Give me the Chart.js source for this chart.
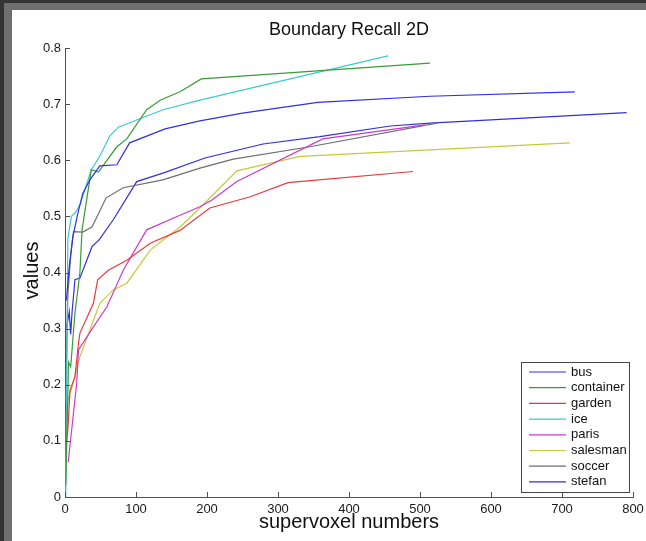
<!DOCTYPE html>
<html>
<head>
<meta charset="utf-8">
<title>Boundary Recall 2D</title>
<script src="https://cdn.jsdelivr.net/npm/chart.js@4.4.1/dist/chart.umd.min.js"></script>
<style>
  html, body { margin: 0; padding: 0; }
  body { width: 646px; height: 541px; background: #353535; position: relative; overflow: hidden; }
  #frame { position: absolute; left: 4px; top: 3px; right: 0; bottom: 0; background: #6f6f6f; }
  #chart { position: absolute; left: 12px; top: 10px; background: #ffffff; }
</style>
</head>
<body>
<div id="frame"></div>
<canvas id="chart" width="634" height="531"></canvas>
<script>
// values
const titleText = 'Boundary Recall 2D';
const xTitle = 'supervoxel numbers';
const yTitle = 'values';

const busX = [2, 6, 11, 18, 25, 35, 49, 73, 91, 141, 190, 250, 356, 514, 718];
const busY = [0.35, 0.41, 0.463, 0.505, 0.541, 0.565, 0.59, 0.592, 0.631, 0.656, 0.670, 0.684, 0.703, 0.714, 0.722];

const containerX = [1, 5, 8, 14, 21, 24, 37, 47, 73, 87, 115, 134, 162, 192, 514];
const containerY = [0.02, 0.24, 0.232, 0.327, 0.40, 0.476, 0.583, 0.579, 0.624, 0.638, 0.690, 0.707, 0.722, 0.745, 0.773];

const gardenX = [2, 4, 7, 14, 19, 21, 40, 46, 61, 87, 120, 162, 204, 261, 314, 490];
const gardenY = [0.10, 0.119, 0.19, 0.214, 0.274, 0.292, 0.345, 0.387, 0.404, 0.422, 0.452, 0.475, 0.515, 0.535, 0.56, 0.58];

const iceX = [1, 4, 9, 14, 21, 37, 48, 63, 75, 138, 190, 455];
const iceY = [0.0, 0.46, 0.50, 0.506, 0.52, 0.583, 0.605, 0.643, 0.659, 0.69, 0.707, 0.786];

const parisX = [4.5, 16.5, 19, 40, 59, 82, 115, 162, 190, 207, 242, 363, 507];
const parisY = [0.062, 0.203, 0.262, 0.303, 0.339, 0.404, 0.476, 0.502, 0.517, 0.529, 0.562, 0.638, 0.663];

const salesmanX = [1, 4, 7, 10, 21, 49, 68, 87, 120, 162, 190, 242, 331, 711];
const salesmanY = [0.03, 0.173, 0.185, 0.196, 0.25, 0.345, 0.369, 0.381, 0.44, 0.481, 0.515, 0.581, 0.607, 0.631];

const soccerX = [1, 4, 8, 12, 25, 38, 58, 82, 138, 190, 237, 345, 524];
const soccerY = [0.17, 0.36, 0.43, 0.473, 0.472, 0.481, 0.533, 0.551, 0.565, 0.586, 0.602, 0.624, 0.666];

const stefanX = [2, 6, 8, 10, 14, 21, 38, 48, 68, 101, 140, 197, 279, 359, 458, 514, 791];
const stefanY = [0.30, 0.33, 0.29, 0.33, 0.387, 0.39, 0.446, 0.458, 0.494, 0.562, 0.578, 0.604, 0.629, 0.642, 0.661, 0.666, 0.685];

const seriesNames = ['bus', 'container', 'garden', 'ice', 'paris', 'salesman', 'soccer', 'stefan'];
const seriesX = [busX, containerX, gardenX, iceX, parisX, salesmanX, soccerX, stefanX];
const seriesY = [busY, containerY, gardenY, iceY, parisY, salesmanY, soccerY, stefanY];
const seriesColors = ['#3030e0', '#3a9a3a', '#e83a3a', '#3ccaca', '#c83cc8', '#c8c83a', '#6e6e6e', '#3030e0'];

const xTicks = [0, 100, 200, 300, 400, 500, 600, 700, 800];
const yTicks = [0, 0.1, 0.2, 0.3, 0.4, 0.5, 0.6, 0.7, 0.8];

Chart.defaults.font.family = '"Liberation Sans", Arial, sans-serif';
Chart.defaults.color = '#1a1a1a';

const datasets = seriesNames.map(function(name, i) {
    return {
        label: name,
        data: seriesX[i].map(function(x, j) { return { x: x, y: seriesY[i][j] }; }),
        borderColor: seriesColors[i],
        backgroundColor: seriesColors[i],
        borderWidth: 1.2,
        pointRadius: 0,
        tension: 0,
        fill: false
    };
});

// inward tick marks, titles and the boxed legend, matlab style
const decorations = {
    id: 'decorations',
    afterDraw: function(chart) {
        const ctx = chart.ctx;
        const ca = chart.chartArea;
        const xs = chart.scales.x;
        const ys = chart.scales.y;
        ctx.save();

        ctx.strokeStyle = '#505050';
        ctx.lineWidth = 1;
        ctx.beginPath();
        xTicks.forEach(function(v) {
            const px = Math.round(xs.getPixelForValue(v)) + 0.5;
            ctx.moveTo(px, ca.bottom);
            ctx.lineTo(px, ca.bottom - 5);
        });
        yTicks.forEach(function(v) {
            const py = Math.round(ys.getPixelForValue(v)) + 0.5;
            ctx.moveTo(ca.left, py);
            ctx.lineTo(ca.left + 5, py);
        });
        ctx.stroke();

        ctx.fillStyle = '#111';
        ctx.textAlign = 'center';
        ctx.textBaseline = 'middle';
        ctx.font = '18px "Liberation Sans", Arial, sans-serif';
        ctx.fillText(titleText, (ca.left + ca.right) / 2, 20);

        ctx.font = '20px "Liberation Sans", Arial, sans-serif';
        ctx.fillText(xTitle, (ca.left + ca.right) / 2, 512);
        ctx.save();
        ctx.translate(20, (ca.top + ca.bottom) / 2 - 2);
        ctx.rotate(-Math.PI / 2);
        ctx.fillText(yTitle, 0, 0);
        ctx.restore();

        // legend box
        const boxW = 108, boxH = 130;
        const right = ca.right - 4;
        const bottom = ca.bottom - 5;
        const left = right - boxW;
        const top = bottom - boxH;
        ctx.fillStyle = '#ffffff';
        ctx.fillRect(left, top, boxW, boxH);
        ctx.strokeStyle = '#444';
        ctx.strokeRect(Math.round(left) + 0.5, Math.round(top) + 0.5, boxW, boxH);

        ctx.font = '13px "Liberation Sans", Arial, sans-serif';
        ctx.textAlign = 'left';
        chart.data.datasets.forEach(function(ds, i) {
            const cy = top + 10 + i * 15.7;
            ctx.strokeStyle = ds.borderColor;
            ctx.lineWidth = 1.2;
            ctx.beginPath();
            ctx.moveTo(left + 8, cy);
            ctx.lineTo(left + 45, cy);
            ctx.stroke();
            ctx.fillStyle = '#111';
            ctx.fillText(ds.label, left + 50, cy);
        });

        ctx.restore();
    }
};

const chartElement = document.getElementById('chart').getContext('2d');
new Chart(chartElement, {
    type: 'line',
    data: { datasets: datasets },
    options: {
        responsive: false,
        animation: false,
        layout: { padding: { top: 38, right: 13, left: 0, bottom: 0 } },
        plugins: {
            legend: { display: false },
            title: { display: false },
            tooltip: { enabled: false }
        },
        scales: {
            x: {
                type: 'linear',
                min: 0,
                max: 800,
                afterFit: function(scale) {
                    scale.height = 44;
                    scale.paddingLeft = 0;
                    scale.paddingRight = 0;
                },
                afterBuildTicks: function(scale) { scale.ticks = xTicks.map(function(v) { return { value: v }; }); },
                grid: { display: false, drawTicks: false },
                border: { display: true, color: '#505050', width: 1 },
                ticks: { padding: 5, font: { size: 13 }, maxRotation: 0 }
            },
            y: {
                type: 'linear',
                min: 0,
                max: 0.8,
                afterFit: function(scale) {
                    scale.width = 53;
                    scale.paddingTop = 0;
                    scale.paddingBottom = 0;
                },
                afterBuildTicks: function(scale) { scale.ticks = yTicks.map(function(v) { return { value: v }; }); },
                grid: { display: false, drawTicks: false },
                border: { display: true, color: '#505050', width: 1 },
                ticks: {
                    padding: 4,
                    font: { size: 13 },
                    callback: function(v) { return v === 0 ? '0' : v.toFixed(1); }
                }
            }
        }
    },
    plugins: [decorations]
});
</script>
</body>
</html>
